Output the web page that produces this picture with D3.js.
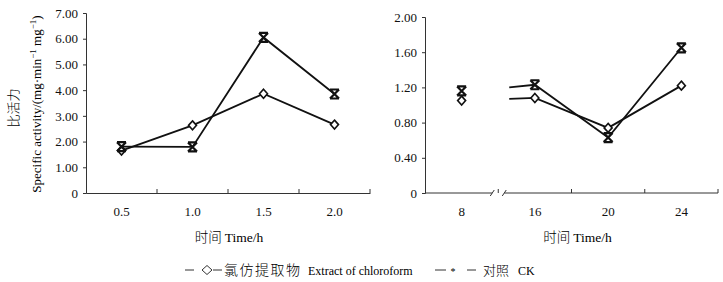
<!DOCTYPE html>
<html>
<head>
<meta charset="utf-8">
<script src="https://cdn.jsdelivr.net/npm/d3@7"></script>
<style>
  body { margin: 0; background: #fff; }
  svg { display: block; font-family: 'Liberation Serif', 'Times New Roman', serif; }
</style>
</head>
<body>
<div id="chart"></div>
<script>
// left panel
const timesA = ['0.5', '1.0', '1.5', '2.0']
const extractA = [1.65, 2.63, 3.86, 2.66]
const ckA = [1.80, 1.79, 6.05, 3.85]
const yTicksA = [0, 1, 2, 3, 4, 5, 6, 7]

// right panel
const timesB = ['8', '16', '20', '24']
const extractB = [1.05, 1.08, 0.74, 1.22]
const ckB = [1.16, 1.23, 0.63, 1.65]
const yTicksB = [0, 0.4, 0.8, 1.2, 1.6, 2.0]
// values where the lines re-start right after the axis break
const leadB = { extract: 1.07, ck: 1.20 }

const W = 723
const H = 282
const cnFont = "'Noto Sans CJK SC', sans-serif"

const svg = d3.select('#chart').append('svg')
  .attr('width', W)
  .attr('height', H)

function diamond(g, x, y) {
  g.append('path')
    .attr('d', `M${x},${y - 4.5}L${x + 4},${y}L${x},${y + 4.5}L${x - 4},${y}Z`)
    .attr('fill', '#fff')
    .attr('stroke', '#111')
    .attr('stroke-width', 1.6)
}

function cross(g, x, y) {
  const s = 4.5
  g.append('path')
    .attr('d', `M${x - s},${y - s}L${x + s},${y - s}M${x - s},${y + s}L${x + s},${y + s}` +
      `M${x - s},${y - s}L${x + s},${y + s}M${x + s},${y - s}L${x - s},${y + s}`)
    .attr('fill', 'none')
    .attr('stroke', '#111')
    .attr('stroke-width', 2.2)
}

function styleAxis(ax) {
  ax.selectAll('text')
    .attr('fill', '#111')
    .style('font-size', '13px')
    .style('font-family', "'Liberation Serif', serif")
  ax.selectAll('line').attr('stroke', '#333')
  ax.select('.domain').attr('stroke', '#333')
}

function drawPanel(cfg) {
  const x = d3.scaleBand().domain(cfg.cats).range([cfg.x0, cfg.x1])
  const y = d3.scaleLinear().domain([0, cfg.ymax]).range([193, cfg.ytop])
  const g = svg.append('g')

  // y axis
  const yAxis = d3.axisLeft(y).tickValues(cfg.yTicks).tickSizeOuter(0).tickSize(3)
    .tickPadding(5)
    .tickFormat(d => d === 0 ? '0' : d.toFixed(2))
  const yg = g.append('g').attr('transform', `translate(${cfg.x0},0)`).call(yAxis)
  styleAxis(yg)

  // x axis, ticks at band edges pointing up
  const edges = cfg.cats.map(c => x(c) + x.bandwidth())
  const xg = g.append('g').attr('transform', 'translate(0,193)')
  xg.call(d3.axisBottom(x).tickSize(0).tickPadding(14))
  styleAxis(xg)
  xg.selectAll('.tick text').attr('dy', '0.71em')
  xg.selectAll('line.edge').data(edges).enter()
    .append('line').classed('edge', true)
    .attr('x1', d => d).attr('x2', d => d)
    .attr('y1', 0).attr('y2', -4)
    .attr('stroke', '#333')

  if (cfg.breakAfter != null) {
    xg.select('.domain').remove()
    const bx = x(cfg.cats[cfg.breakAfter]) + x.bandwidth()
    xg.append('line').attr('x1', cfg.x0).attr('x2', bx - 6).attr('y1', 0).attr('y2', 0).attr('stroke', '#333')
    xg.append('line').attr('x1', bx + 6).attr('x2', cfg.x1).attr('y1', 0).attr('y2', 0).attr('stroke', '#333')
    ;[-6, 6].forEach(o => {
      xg.append('line')
        .attr('x1', bx + o - 2).attr('x2', bx + o + 2)
        .attr('y1', 3).attr('y2', -3)
        .attr('stroke', '#333')
    })
  }

  // x title
  g.append('text')
    .attr('x', (cfg.x0 + cfg.x1) / 2 + cfg.titleShift)
    .attr('y', 242)
    .attr('text-anchor', 'middle')
    .style('font-size', '13.5px')
    .call(t => {
      t.append('tspan').style('font-family', cnFont).style('font-weight', 300).text('时间 ')
      t.append('tspan').text('Time/h')
    })

  const cx = d => x(d) + x.bandwidth() / 2
  const line = d3.line().x(d => d[0]).y(d => y(d[1]))

  const series = [
    { vals: cfg.extract, mark: diamond, lead: cfg.lead && cfg.lead.extract },
    { vals: cfg.ck, mark: cross, lead: cfg.lead && cfg.lead.ck }
  ]
  series.forEach(s => {
    let pts = cfg.cats.map((c, i) => [cx(c), s.vals[i]])
    const marks = pts.slice()
    if (cfg.breakAfter != null) {
      const bx = x(cfg.cats[cfg.breakAfter]) + x.bandwidth()
      pts = [[bx + 11, s.lead]].concat(pts.slice(cfg.breakAfter + 1))
    }
    g.append('path')
      .attr('d', line(pts))
      .attr('fill', 'none')
      .attr('stroke', '#111')
      .attr('stroke-width', 1.8)
    marks.forEach(p => s.mark(g, p[0], y(p[1])))
  })
}

drawPanel({
  cats: timesA, extract: extractA, ck: ckA, yTicks: yTicksA,
  x0: 86, x1: 370, ymax: 7, ytop: 13, titleShift: 1
})

drawPanel({
  cats: timesB, extract: extractB, ck: ckB, yTicks: yTicksB,
  x0: 425, x1: 718, ymax: 2, ytop: 17, titleShift: 6,
  breakAfter: 0, lead: leadB
})

// y axis titles (left panel)
svg.append('text')
  .attr('transform', 'translate(18,108) rotate(-90)')
  .attr('text-anchor', 'middle')
  .style('font-family', cnFont)
  .style('font-weight', 300)
  .style('font-size', '13px')
  .text('比活力')

svg.append('text')
  .attr('transform', 'translate(41,104) rotate(-90)')
  .attr('text-anchor', 'middle')
  .style('font-size', '13px')
  .call(t => {
    t.append('tspan').text('Specific activity/(mg·min')
    t.append('tspan').attr('baseline-shift', 'super').style('font-size', '9px').text('−1')
    t.append('tspan').text(' mg')
    t.append('tspan').attr('baseline-shift', 'super').style('font-size', '9px').text('−1')
    t.append('tspan').text(')')
  })

// legend
const lg = svg.append('g').attr('transform', 'translate(0,270)')
const dash = (a, b) => lg.append('line').attr('x1', a).attr('x2', b).attr('y1', 0).attr('y2', 0)
  .attr('stroke', '#333').attr('stroke-width', 1)
dash(185, 194)
lg.append('path').attr('d', 'M207,-4.5L212,0L207,4.5L202,0Z').attr('fill', 'none').attr('stroke', '#333').attr('stroke-width', 1)
dash(213, 222)
lg.append('text').attr('x', 224).attr('y', 5).attr('textLength', 76)
  .style('font-family', cnFont).style('font-weight', 300).style('font-size', '14px').text('氯仿提取物')
lg.append('text').attr('x', 308).attr('y', 5).style('font-size', '12px').text('Extract of chloroform')
dash(435, 446)
lg.append('text').attr('x', 453).attr('y', 5).attr('text-anchor', 'middle').style('font-size', '10px').text('*')
dash(467, 476)
lg.append('text').attr('x', 483).attr('y', 5)
  .style('font-family', cnFont).style('font-weight', 300).style('font-size', '13px').text('对照')
lg.append('text').attr('x', 518).attr('y', 5).style('font-size', '12px').text('CK')
</script>
</body>
</html>
